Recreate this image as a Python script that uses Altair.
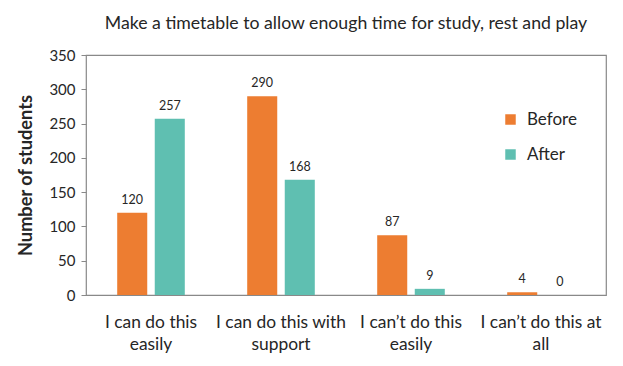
import altair as alt
import pandas as pd

categories = ["I can do this easily", "I can do this with support", "I can\u2019t do this easily", "I can\u2019t do this at all"]
label_lines = [["I can do this", "easily"], ["I can do this with", "support"], ["I can\u2019t do this", "easily"], ["I can\u2019t do this at", "all"]]
series = ["Before", "After"]
before = [120, 290, 87, 4]
after = [257, 168, 9, 0]
colors = ["#ED7D31", "#5FBFB1"]

rows = []
for c, b, a in zip(categories, before, after):
    rows.append({"cat": c, "series": "Before", "value": b})
    rows.append({"cat": c, "series": "After", "value": a})
df = pd.DataFrame(rows)

mapping = "{" + ",".join(
    "'" + c + "':[" + ",".join("'" + l + "'" for l in ls) + "]" for c, ls in zip(categories, label_lines)
) + "}"
label_expr = mapping + "[datum.label]"

FONT = "Lato"

x = alt.X("cat:N", sort=categories, title=None,
          scale=alt.Scale(paddingInner=0.48, paddingOuter=0.24),
          axis=alt.Axis(labelExpr=label_expr, labelAngle=0, ticks=False, domain=False,
                        labelPadding=18, labelFontSize=17.4, labelFont=FONT, labelColor="#262626",
                        labelLineHeight=22))
xo = alt.XOffset("series:N", sort=series, scale=alt.Scale(paddingInner=0.2, paddingOuter=0))
y = alt.Y("value:Q", title="Number of students",
          scale=alt.Scale(domain=[0, 350]),
          axis=alt.Axis(values=list(range(0, 351, 50)), grid=False, domain=False,
                        labelOverlap=False,
                        tickColor="#898989", tickSize=5, labelFontSize=15, labelFont=FONT,
                        labelColor="#262626", labelPadding=6,
                        titleFont=FONT, titleFontSize=18.2, titleFontWeight="bold",
                        titleColor="#262626", titlePadding=13))

bars = alt.Chart(df).mark_bar().encode(
    x=x, xOffset=xo, y=y,
    color=alt.Color("series:N", sort=series, scale=alt.Scale(domain=series, range=colors),
                    legend=alt.Legend(title=None, orient="none", legendX=416, legendY=56,
                                      symbolType="square", symbolSize=110, symbolStrokeWidth=0,
                                      labelFontSize=17, labelFont=FONT, labelColor="#262626",
                                      rowPadding=17, labelOffset=8))
)

text = alt.Chart(df).mark_text(dy=-13, fontSize=12.5, font=FONT, color="#262626").encode(
    x=x, xOffset=xo, y=y, text="value:Q"
)

chart = (bars + text).properties(
    width=520, height=240,
    title=alt.Title("Make a timetable to allow enough time for study, rest and play",
                    fontSize=17.7, font=FONT, fontWeight="normal", color="#262626", offset=15),
    autosize=alt.AutoSizeParams(type="none"),
    padding={"left": 78, "top": 47, "right": 9, "bottom": 63},
).configure_view(stroke="#898989", strokeWidth=1.2)

chart.save("out.html", embed_options={"renderer": "svg", "actions": False})
